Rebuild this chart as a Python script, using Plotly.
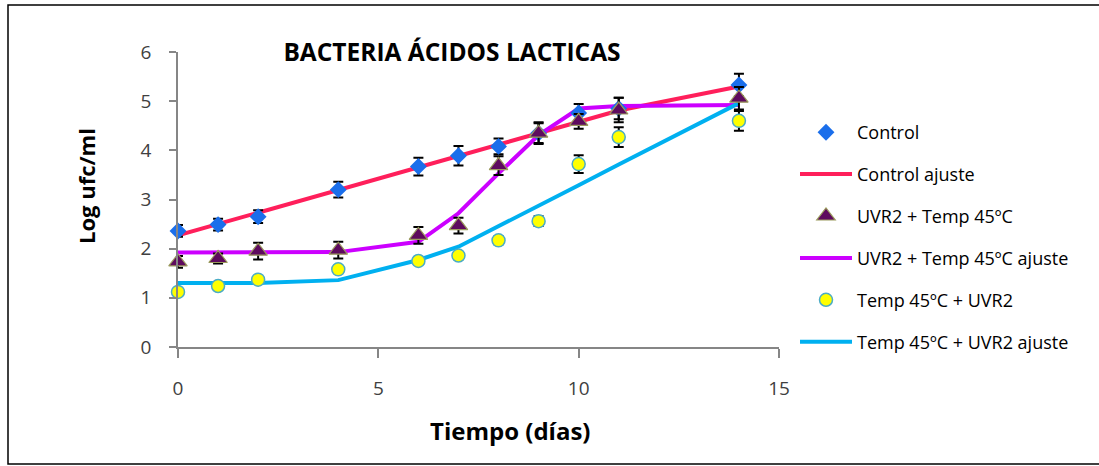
import plotly.graph_objects as go

# ---- data ----
days = [0, 1, 2, 4, 6, 7, 8, 9, 10, 11, 14]

control = [2.36, 2.49, 2.65, 3.20, 3.67, 3.89, 4.08, 4.35, 4.76, 4.85, 5.33]
control_err = [0.12, 0.12, 0.13, 0.16, 0.18, 0.20, 0.16, 0.20, 0.18, 0.22, 0.23]
control_fit = [2.27, 2.50, 2.73, 3.19, 3.66, 3.89, 4.12, 4.35, 4.58, 4.81, 5.30]

uvr = [1.73, 1.80, 1.95, 1.97, 2.27, 2.47, 3.69, 4.35, 4.59, 4.82, 5.06]
uvr_err = [0.12, 0.10, 0.17, 0.17, 0.17, 0.16, 0.19, 0.22, 0.15, 0.25, 0.23]
uvr_fit = [1.92, 1.92, 1.92, 1.93, 2.14, 2.72, 3.53, 4.31, 4.85, 4.90, 4.92]

temp = [1.12, 1.24, 1.37, 1.58, 1.75, 1.86, 2.17, 2.56, 3.72, 4.27, 4.60]
temp_err = [0.05, 0.04, 0.05, 0.05, 0.05, 0.05, 0.08, 0.10, 0.18, 0.20, 0.20]
temp_fit = [1.30, 1.30, 1.30, 1.36, 1.77, 2.04, 2.45, 2.87, 3.29, 3.71, 4.96]

names = ["Control", "Control ajuste", "UVR2 + Temp 45ºC", "UVR2 + Temp 45ºC ajuste",
         "Temp 45ºC + UVR2", "Temp 45ºC + UVR2 ajuste"]
x_ticks = [0, 5, 10, 15]
y_ticks = [0, 1, 2, 3, 4, 5, 6]

FONT = "'Open Sans', Lato, sans-serif"

fig = go.Figure()

def err(arr):
    return dict(type="data", array=arr, visible=True, color="black", thickness=2, width=5)

# fit lines first (underneath)
fig.add_trace(go.Scatter(x=days, y=control_fit, mode="lines", name=names[1],
                         line=dict(color="#FF1F5B", width=4), legendrank=2,
                         legendgroup="g2", cliponaxis=False))
fig.add_trace(go.Scatter(x=days, y=uvr_fit, mode="lines", name=names[3],
                         line=dict(color="#CC00FF", width=4), legendrank=4,
                         legendgroup="g4", cliponaxis=False))
fig.add_trace(go.Scatter(x=days, y=temp_fit, mode="lines", name=names[5],
                         line=dict(color="#00B0F0", width=4), legendrank=6,
                         legendgroup="g6", cliponaxis=False))

# markers with error bars
fig.add_trace(go.Scatter(x=days, y=control, mode="markers", name=names[0],
                         marker=dict(symbol="diamond", size=13, color="#1A6EEB",
                                     line=dict(width=0)),
                         error_y=err(control_err), legendrank=1, legendgroup="g1",
                         cliponaxis=False))
fig.add_trace(go.Scatter(x=days, y=uvr, mode="markers", name=names[2],
                         marker=dict(symbol="triangle-up", size=16, color="#5E0A5E",
                                     line=dict(width=1.2, color="#9A9A5C")),
                         error_y=err(uvr_err), legendrank=3, legendgroup="g3",
                         cliponaxis=False))
fig.add_trace(go.Scatter(x=days, y=temp, mode="markers", name=names[4],
                         marker=dict(symbol="circle", size=13, color="#FFFF00",
                                     line=dict(width=1.5, color="#4BACC6")),
                         error_y=err(temp_err), legendrank=5, legendgroup="g5",
                         cliponaxis=False))

L, R, T, B = 178, 779, 52, 347
W, H = 1099, 466

def px_x(p):
    return (p - L) / (R - L)

def px_y(p):
    return (B - p) / (B - T)

fig.update_layout(
    width=W, height=H,
    margin=dict(l=L, r=W - R, t=T, b=H - B),
    paper_bgcolor="white", plot_bgcolor="white",
    font=dict(family=FONT, color="#404040", size=18),
    title=dict(text="<b>BACTERIA ÁCIDOS LACTICAS</b>", x=px_x(452), xref="paper",
               xanchor="center", y=1 - 52 / H, yref="container", yanchor="middle",
               font=dict(family=FONT, size=24.5, color="black")),
    xaxis=dict(range=[0, 15], tickvals=x_ticks, showgrid=False, zeroline=False,
               showline=True, linecolor="#868686", linewidth=1.5,
               ticks="outside", ticklen=9, tickcolor="#868686", tickwidth=1.5,
               ticklabelstandoff=14,
               tickfont=dict(family=FONT, size=19, color="#404040")),
    yaxis=dict(range=[0, 6], tickvals=y_ticks, showgrid=False, zeroline=False,
               showline=True, linecolor="#868686", linewidth=1.5,
               ticks="outside", ticklen=7, tickcolor="#868686", tickwidth=1.5,
               ticklabelstandoff=14,
               tickfont=dict(family=FONT, size=19, color="#404040")),
    legend=dict(x=px_x(795), xanchor="left", y=px_y(114), yanchor="top",
                font=dict(family=FONT, size=18, color="black"),
                tracegroupgap=15.5, itemwidth=52, bgcolor="rgba(0,0,0,0)"),
    showlegend=True,
    annotations=[
        dict(text="<b>Tiempo (días)</b>", xref="paper", yref="paper",
             x=px_x(510), y=px_y(430), xanchor="center", yanchor="middle",
             showarrow=False, font=dict(family=FONT, size=24, color="black")),
        dict(text="<b>Log ufc/ml</b>", xref="paper", yref="paper",
             x=px_x(86), y=px_y(186), xanchor="center", yanchor="middle",
             textangle=-90, showarrow=False,
             font=dict(family=FONT, size=22, color="black")),
    ],
    shapes=[dict(type="rect", xref="paper", yref="paper",
                 x0=px_x(8), x1=px_x(1110), y0=px_y(464), y1=px_y(5),
                 line=dict(color="black", width=1.5), layer="below")],
)

fig.write_html("out.html")
